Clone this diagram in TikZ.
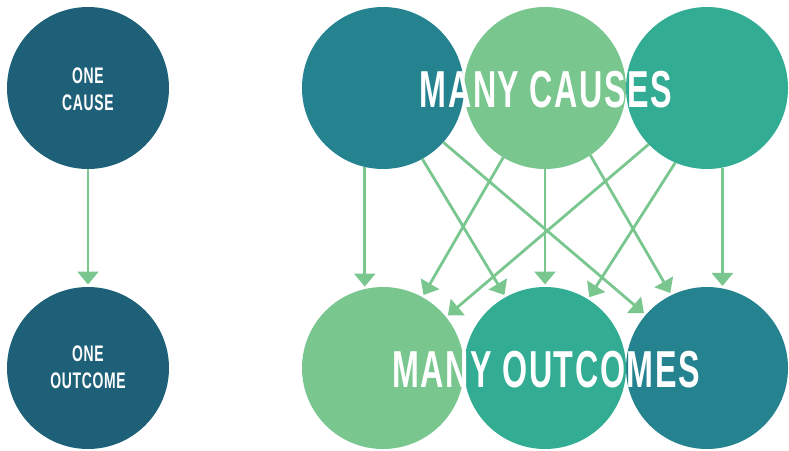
\documentclass[tikz,border=0pt]{standalone}
\usepackage{fontspec}
\usetikzlibrary{arrows.meta}
\newfontfamily\condfont[FakeStretch=0.62,LetterSpace=3]{Liberation Sans}
\definecolor{darkblue}{HTML}{1F6079}
\definecolor{tealc}{HTML}{25828F}
\definecolor{greenc}{HTML}{79C68E}
\definecolor{seac}{HTML}{32AD93}
\tikzset{
  ball/.style={circle, minimum size=162pt, inner sep=0pt, outer sep=0pt},
  arr/.style={draw=greenc, line width=2.8pt, -{Triangle[width=21pt,length=13pt]}, shorten >=2.5pt},
  smalltxt/.style={text=white, font=\condfont\bfseries\fontsize{22.5}{27}\selectfont, align=center, inner sep=0pt},
  bigtxt/.style={text=white, font=\condfont\bfseries\fontsize{52}{52}\selectfont, inner sep=0pt}
}
\begin{document}
\begin{tikzpicture}[x=1pt,y=-1pt]
\useasboundingbox (0,0) rectangle (789,450);
% left
\node[ball, fill=darkblue] (L1) at (88,88) {};
\node[ball, fill=darkblue] (L2) at (88,368) {};
\node[smalltxt] (l1t) at (88,89) {ONE\\CAUSE};
\node[smalltxt] (l2t) at (88,367) {ONE\\OUTCOME};
\draw[arr] (L1.-90) -- (L2.90);
% right top
\node[ball, fill=tealc] (T1) at (383,88) {};
\node[ball, fill=greenc] (T2) at (545,88) {};
\node[ball, fill=seac] (T3) at (707,88) {};
% right bottom
\node[ball, fill=greenc] (B1) at (383,368) {};
\node[ball, fill=seac] (B2) at (545,368) {};
\node[ball, fill=tealc] (B3) at (707,368) {};
% arrows
\draw[arr] (T1.-103.4) -- (B1.103.5);
\draw[arr] (T1.-61.2) -- (B2.119.7);
\draw[arr] (T1.-42.5) -- (B3.139.5);
\draw[arr] (T2.-121.7) -- (B1.61.3);
\draw[arr] (T2.-90) -- (B2.90);
\draw[arr] (T2.-56.5) -- (B3.116.9);
\draw[arr] (T3.-136.5) -- (B1.39.6);
\draw[arr] (T3.-113.1) -- (B2.58);
\draw[arr] (T3.-79.4) -- (B3.79.2);
% labels
\node[bigtxt] (mc) at (546,90) {MANY CAUSES};
\node[bigtxt] (mo) at (546,370) {MANY OUTCOMES};
\end{tikzpicture}
\end{document}
